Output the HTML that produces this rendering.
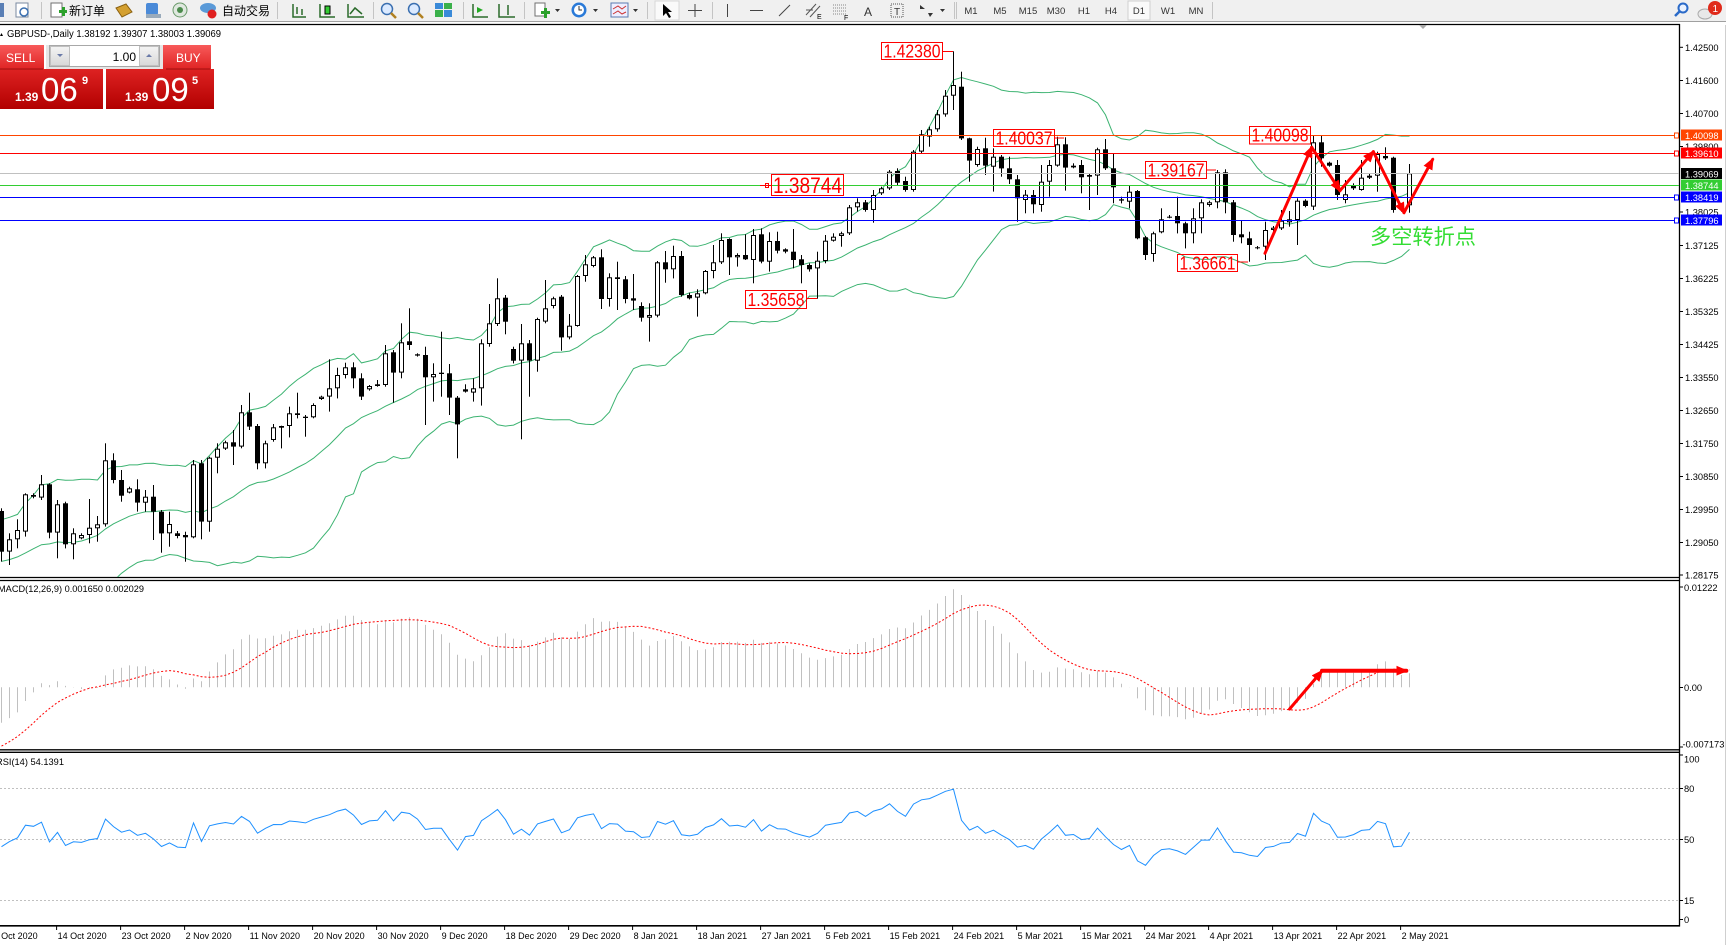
<!DOCTYPE html>
<html><head><meta charset="utf-8">
<style>
html,body{margin:0;padding:0;background:#fff;}
body{width:1726px;height:945px;overflow:hidden;position:relative;}
svg{position:absolute;left:0;top:0;}
</style></head><body>
<svg id="s" width="1726" height="945" viewBox="0 0 1726 945" xmlns="http://www.w3.org/2000/svg" font-family="'Liberation Sans','Noto Sans CJK SC',sans-serif">
<defs>
<linearGradient id="gBtn" x1="0" y1="0" x2="0" y2="1"><stop offset="0" stop-color="#f85a5a"/><stop offset="1" stop-color="#e02424"/></linearGradient>
<linearGradient id="gBig" x1="0" y1="0" x2="0" y2="1"><stop offset="0" stop-color="#de2222"/><stop offset="1" stop-color="#b20000"/></linearGradient>
<linearGradient id="gGr" x1="0" y1="0" x2="0" y2="1"><stop offset="0" stop-color="#f4f4f4"/><stop offset="1" stop-color="#d8d8d8"/></linearGradient>
<clipPath id="cMain"><rect x="0" y="26" width="1679" height="551"/></clipPath>
<clipPath id="cMacd"><rect x="0" y="582" width="1679" height="167"/></clipPath>
<clipPath id="cRsi"><rect x="0" y="753" width="1679" height="172"/></clipPath>
<marker id="ah" markerUnits="userSpaceOnUse" markerWidth="12" markerHeight="10" refX="10" refY="5" orient="auto"><path d="M0,0 L12,5 L0,10 z" fill="#ff0000"/></marker>
</defs>

<!-- toolbar -->
<rect x="0" y="0" width="1726" height="21" fill="#f0f0f0"/>
<line x1="0" y1="21.5" x2="1726" y2="21.5" stroke="#a0a0a0"/>
<g stroke="#c4c4c4"><line x1="41.5" y1="2" x2="41.5" y2="19"/><line x1="277.5" y1="2" x2="277.5" y2="19"/><line x1="373.5" y1="2" x2="373.5" y2="19"/><line x1="463.5" y1="2" x2="463.5" y2="19"/><line x1="524.5" y1="2" x2="524.5" y2="19"/><line x1="647.5" y1="2" x2="647.5" y2="19"/><line x1="712.5" y1="2" x2="712.5" y2="19"/><line x1="954.5" y1="2" x2="954.5" y2="19"/><line x1="956.5" y1="2" x2="956.5" y2="19"/><line x1="1212.5" y1="2" x2="1212.5" y2="19"/></g>
<rect x="0" y="3" width="4" height="14" fill="#5a7fb5"/>
<rect x="16" y="3" width="12" height="14" fill="#fff" stroke="#7a8aa0"/><circle cx="24" cy="12" r="4" fill="none" stroke="#3a6fb0" stroke-width="1.5"/>
<rect x="51" y="3" width="11" height="14" fill="#fff" stroke="#707070"/><rect x="59" y="10" width="8" height="3" fill="#2aa02a"/><rect x="62" y="7" width="3" height="9" fill="#2aa02a"/>
<text x="69" y="15" font-size="12" font-family="'Liberation Sans','Noto Sans CJK SC',sans-serif">新订单</text>
<path d="M116,8 L126,4 L132,12 L122,17 z" fill="#d4a030" stroke="#8a6010"/>
<rect x="146" y="3" width="12" height="12" rx="2" fill="#4a8ad8"/><rect x="146" y="14" width="15" height="4" fill="#9ab"/>
<circle cx="180" cy="10" r="7" fill="#dfe8df" stroke="#6a9a6a"/><circle cx="180" cy="10" r="3" fill="#4a8a4a"/>
<ellipse cx="208" cy="8" rx="8" ry="5" fill="#5a9ad8"/><circle cx="212" cy="14" r="4.5" fill="#e02020"/>
<text x="222" y="15" font-size="12" font-family="'Liberation Sans','Noto Sans CJK SC',sans-serif">自动交易</text>
<g stroke="#2a6a2a" stroke-width="1.5" fill="none"><path d="M293,4 V17 H306 M297,7 V14 M302,9 V15"/><path d="M320,4 V17 H335"/><path d="M348,4 V17 H364 M350,14 L355,8 L362,14"/></g>
<rect x="325" y="6" width="5" height="8" fill="#3c3" stroke="#000"/>
<circle cx="387" cy="9" r="5.5" fill="#dbeaff" stroke="#3a6fb0" stroke-width="1.5"/><line x1="391" y1="13" x2="396" y2="18" stroke="#b08020" stroke-width="2.5"/>
<circle cx="414" cy="9" r="5.5" fill="#dbeaff" stroke="#3a6fb0" stroke-width="1.5"/><line x1="418" y1="13" x2="423" y2="18" stroke="#b08020" stroke-width="2.5"/>
<rect x="435" y="3" width="8" height="6" fill="#3a8ad8"/><rect x="444" y="3" width="8" height="6" fill="#3ab04a"/><rect x="435" y="10" width="8" height="7" fill="#3ab04a"/><rect x="444" y="10" width="8" height="7" fill="#3a8ad8"/>
<g stroke="#2a6a2a" stroke-width="1.5" fill="none"><path d="M473,4 V17 H488"/><path d="M499,4 V17 H515 M508,5 V15"/></g>
<path d="M477,7 L483,10 L477,13 z" fill="#2a2"/>
<rect x="535" y="3" width="10" height="13" fill="#fff" stroke="#707070"/><rect x="541" y="11" width="9" height="3" fill="#2aa02a"/><rect x="544" y="8" width="3" height="10" fill="#2aa02a"/>
<path d="M555,9 h5 l-2.5,3 z M593,9 h5 l-2.5,3 z M633,9 h5 l-2.5,3 z M940,9 h5 l-2.5,3 z" fill="#333"/>
<circle cx="579" cy="10" r="7.5" fill="#2a7ad8"/><circle cx="579" cy="10" r="5" fill="#fff"/><path d="M579,6 V10 H582" stroke="#333" fill="none"/>
<rect x="611" y="3" width="17" height="14" fill="#eef" stroke="#5a7ab0"/><path d="M613,9 L618,6 L622,9 L626,6 M613,14 L618,11 L622,14 L626,12" stroke="#c33" fill="none"/>
<rect x="655" y="1" width="24" height="19" fill="#fafafa" stroke="#d8d8d8"/><path d="M663,4 L663,16 L666,13 L669,18 L671,17 L668,12 L672,12 z" fill="#000"/>
<path d="M695,4 V17 M688,10.5 H702" stroke="#444"/>
<line x1="727.5" y1="4" x2="727.5" y2="17" stroke="#444"/><line x1="750" y1="10.5" x2="763" y2="10.5" stroke="#444"/><line x1="779" y1="16" x2="790" y2="5" stroke="#444"/>
<path d="M806,15 L816,4 M810,17 L820,6 M806,10 L813,10" stroke="#555" fill="none"/><text x="817" y="19" font-size="7">E</text>
<path d="M833,5 H847 M833,8 H847 M833,11 H847 M833,14 H847" stroke="#888" stroke-dasharray="1,1"/><text x="844" y="20" font-size="7">F</text>
<text x="864" y="16" font-size="12" fill="#333">A</text>
<rect x="891" y="4" width="12" height="13" fill="none" stroke="#555" stroke-dasharray="1,1"/><text x="894" y="15" font-size="10" fill="#333">T</text>
<path d="M920,5 L925,9 L920,9 z M928,13 L933,13 L930,17 z" fill="#333"/>
<g font-size="9.5" fill="#333" text-anchor="middle"><text x="971" y="14">M1</text><text x="1000" y="14">M5</text><text x="1028" y="14">M15</text><text x="1056" y="14">M30</text><text x="1084" y="14">H1</text><text x="1111" y="14">H4</text><text x="1168" y="14">W1</text><text x="1196" y="14">MN</text></g>
<rect x="1128" y="1" width="22" height="19" fill="#fafafa" stroke="#d0d0d0"/><text x="1139" y="14" font-size="9.5" fill="#333" text-anchor="middle">D1</text>
<circle cx="1683" cy="8" r="4.5" fill="#eaf2ff" stroke="#2a6ac8" stroke-width="2"/><line x1="1680" y1="11" x2="1675" y2="16" stroke="#2a6ac8" stroke-width="2.5"/>
<ellipse cx="1705" cy="14" rx="7" ry="5" fill="#e8e8e8" stroke="#aaa"/><circle cx="1715" cy="8" r="7" fill="#e02a1a"/><text x="1712.5" y="12" font-size="10" fill="#fff">1</text>

<!-- chart frame -->
<rect x="0" y="22" width="1726" height="3" fill="#fff"/>
<line x1="0" y1="24.5" x2="1680" y2="24.5" stroke="#000" stroke-width="1.3"/>
<path d="M1419,25 L1427,25 L1423,29 z" fill="#a8a8a8"/>
<line x1="1679.5" y1="24" x2="1679.5" y2="926.5" stroke="#000" stroke-width="1.3"/>
<line x1="0" y1="577.5" x2="1680" y2="577.5" stroke="#000" stroke-width="1.3"/>
<line x1="0" y1="580.5" x2="1680" y2="580.5" stroke="#000" stroke-width="1.3"/>
<line x1="0" y1="749.8" x2="1680" y2="749.8" stroke="#000" stroke-width="1.3"/>
<line x1="0" y1="752.3" x2="1680" y2="752.3" stroke="#000" stroke-width="1.3"/>
<line x1="0" y1="925.8" x2="1680" y2="925.8" stroke="#000" stroke-width="1.6"/>
<line x1="1725.5" y1="25" x2="1725.5" y2="945" stroke="#cfcfcf"/>

<!-- RSI levels -->
<g stroke="#c0c0c0" stroke-dasharray="2,2"><line x1="0" y1="788.5" x2="1679" y2="788.5"/><line x1="0" y1="839.5" x2="1679" y2="839.5"/><line x1="0" y1="900.5" x2="1679" y2="900.5"/></g>

<g id="bb" clip-path="url(#cMain)"></g>
<g id="cd" clip-path="url(#cMain)"></g>
<g id="mh" clip-path="url(#cMacd)"></g>
<g id="rs" clip-path="url(#cRsi)"></g>

<!-- horizontal lines -->
<line x1="0" y1="135.5" x2="1674" y2="135.5" stroke="#ff4500"/><rect x="1674.5" y="133" width="4" height="5" fill="#fff" stroke="#ff4500"/>
<line x1="0" y1="153.5" x2="1674" y2="153.5" stroke="#ff0000"/><rect x="1674.5" y="151" width="4" height="5" fill="#fff" stroke="#ff0000"/>
<line x1="0" y1="173.5" x2="1679" y2="173.5" stroke="#c0c0c0"/>
<line x1="0" y1="185.5" x2="1679" y2="185.5" stroke="#32cd32"/>
<line x1="0" y1="197.5" x2="1674" y2="197.5" stroke="#0000ff"/><rect x="1674.5" y="195" width="4" height="5" fill="#fff" stroke="#0000ff"/>
<line x1="0" y1="220.5" x2="1674" y2="220.5" stroke="#0000ff"/><rect x="1674.5" y="218" width="4" height="5" fill="#fff" stroke="#0000ff"/>

<!-- price labels -->
<g fill="none" stroke="#ff0000" stroke-width="1">
<rect x="881.5" y="42.5" width="61" height="17"/><line x1="943" y1="51.5" x2="953" y2="51.5"/>
<rect x="993.5" y="129.5" width="61" height="17"/><line x1="1055" y1="138" x2="1064" y2="138"/>
<rect x="1145.5" y="161.5" width="61" height="17"/><line x1="1207" y1="170" x2="1216" y2="170"/>
<rect x="1177.5" y="254.5" width="60" height="17"/><line x1="1238" y1="262" x2="1248" y2="262"/>
<rect x="1249.5" y="126.5" width="61" height="17.5"/>
<rect x="745.5" y="290.5" width="61" height="18"/><line x1="807" y1="298.5" x2="817" y2="298.5"/>
<rect x="771.5" y="174.5" width="72" height="21"/><line x1="760" y1="185.5" x2="771" y2="185.5"/><rect x="765.5" y="183.5" width="3" height="4"/>
</g>
<g fill="#ff0000" font-size="18">
<text x="883.5" y="57.5" textLength="57" lengthAdjust="spacingAndGlyphs">1.42380</text>
<text x="995.5" y="144.5" textLength="57" lengthAdjust="spacingAndGlyphs">1.40037</text>
<text x="1147.5" y="176.5" textLength="57" lengthAdjust="spacingAndGlyphs">1.39167</text>
<text x="1179.5" y="269.5" textLength="56" lengthAdjust="spacingAndGlyphs">1.36661</text>
<text x="1251.5" y="141.5" textLength="57" lengthAdjust="spacingAndGlyphs">1.40098</text>
<text x="747.5" y="306" textLength="57" lengthAdjust="spacingAndGlyphs">1.35658</text>
<text x="773" y="193" font-size="22" textLength="69" lengthAdjust="spacingAndGlyphs">1.38744</text>
</g>

<!-- red zigzag -->
<g stroke="#ff0000" stroke-width="3" stroke-linecap="round" marker-end="url(#ah)">
<line x1="1265" y1="253.3" x2="1311.7" y2="147.3"/>
<line x1="1311.7" y1="147.3" x2="1340" y2="190.7"/>
<line x1="1340" y1="190.7" x2="1373.3" y2="151.7"/>
<line x1="1373.3" y1="151.7" x2="1404" y2="212.7"/>
<line x1="1404" y1="212.7" x2="1432.7" y2="159.3"/>
<line x1="1289.6" y1="709" x2="1322" y2="671"/>
<line x1="1322" y1="670.7" x2="1406.3" y2="670.7" stroke-width="4"/>
</g>
<text x="1370" y="244" font-size="21" fill="#33dd33" textLength="106" lengthAdjust="spacingAndGlyphs" font-family="'Liberation Sans','Noto Sans CJK SC',sans-serif">多空转折点</text>

<!-- title & indicator captions -->
<path d="M0,36 L3,36 L1.5,33 z" fill="#000"/>
<text x="7" y="37" font-size="10" textLength="214" lengthAdjust="spacingAndGlyphs">GBPUSD-,Daily  1.38192 1.39307 1.38003 1.39069</text>
<text x="-2" y="592" font-size="9.5" textLength="146" lengthAdjust="spacingAndGlyphs">MACD(12,26,9) 0.001650 0.002029</text>
<text x="-4" y="765" font-size="9.5" textLength="68" lengthAdjust="spacingAndGlyphs">RSI(14) 54.1391</text>

<!-- one click trading -->
<rect x="0" y="45" width="44" height="24" fill="url(#gBtn)"/>
<text x="6" y="62" font-size="12" fill="#fff">SELL</text>
<rect x="46" y="45" width="117" height="24" fill="#e6e6e6"/>
<rect x="49.5" y="45.5" width="110" height="21" fill="#fff" stroke="#a8a8a8"/>
<rect x="50.5" y="46.5" width="19" height="19" fill="url(#gGr)" stroke="#c0c0c0"/>
<rect x="139.5" y="46.5" width="19" height="19" fill="url(#gGr)" stroke="#c0c0c0"/>
<path d="M57,54 h6 l-3,3 z" fill="#6a7aa8"/><path d="M146,57 h6 l-3,-3 z" fill="#6a7aa8"/>
<text x="136" y="61" font-size="12" text-anchor="end">1.00</text>
<rect x="163" y="45" width="48" height="24" fill="url(#gBtn)"/>
<text x="176" y="62" font-size="12" fill="#fff">BUY</text>
<rect x="0" y="69" width="103" height="40" fill="url(#gBig)"/>
<rect x="106" y="69" width="108" height="40" fill="url(#gBig)"/>
<line x1="0" y1="69" x2="43" y2="69" stroke="#a01010"/><line x1="166" y1="69" x2="210" y2="69" stroke="#a01010"/>
<g fill="#fff">
<text x="15" y="101" font-size="12" font-weight="bold">1.39</text>
<text x="41" y="101" font-size="33">06</text>
<text x="82" y="84" font-size="11" font-weight="bold">9</text>
<text x="125" y="101" font-size="12" font-weight="bold">1.39</text>
<text x="152" y="101" font-size="33">09</text>
<text x="192" y="84" font-size="11" font-weight="bold">5</text>
</g>

<!-- price axis -->
<g stroke="#000"><line x1="1680" y1="47.3" x2="1683" y2="47.3"/><line x1="1680" y1="80.5" x2="1683" y2="80.5"/><line x1="1680" y1="113.5" x2="1683" y2="113.5"/><line x1="1680" y1="146.5" x2="1683" y2="146.5"/><line x1="1680" y1="212" x2="1683" y2="212"/><line x1="1680" y1="245.5" x2="1683" y2="245.5"/><line x1="1680" y1="278.5" x2="1683" y2="278.5"/><line x1="1680" y1="311.5" x2="1683" y2="311.5"/><line x1="1680" y1="344.5" x2="1683" y2="344.5"/><line x1="1680" y1="377.5" x2="1683" y2="377.5"/><line x1="1680" y1="410.5" x2="1683" y2="410.5"/><line x1="1680" y1="443.5" x2="1683" y2="443.5"/><line x1="1680" y1="476.5" x2="1683" y2="476.5"/><line x1="1680" y1="509.5" x2="1683" y2="509.5"/><line x1="1680" y1="542.5" x2="1683" y2="542.5"/><line x1="1680" y1="575" x2="1683" y2="575"/>
<line x1="1680" y1="587" x2="1683" y2="587"/><line x1="1680" y1="687.5" x2="1683" y2="687.5"/><line x1="1680" y1="747" x2="1683" y2="747"/>
<line x1="1680" y1="755" x2="1683" y2="755"/><line x1="1680" y1="788.5" x2="1683" y2="788.5"/><line x1="1680" y1="839.5" x2="1683" y2="839.5"/><line x1="1680" y1="900.5" x2="1683" y2="900.5"/><line x1="1680" y1="919.5" x2="1683" y2="919.5"/></g>
<g font-size="9.3" fill="#000">
<text x="1685" y="50.8">1.42500</text><text x="1685" y="84">1.41600</text><text x="1685" y="117">1.40700</text><text x="1685" y="150">1.39800</text>
<text x="1685" y="215.5">1.38025</text><text x="1685" y="249">1.37125</text><text x="1685" y="282">1.36225</text><text x="1685" y="315">1.35325</text><text x="1685" y="348">1.34425</text><text x="1685" y="381">1.33550</text><text x="1685" y="414">1.32650</text><text x="1685" y="447">1.31750</text><text x="1685" y="480">1.30850</text><text x="1685" y="513">1.29950</text><text x="1685" y="546">1.29050</text><text x="1685" y="578.5">1.28175</text>
<text x="1684" y="591">0.01222</text><text x="1684" y="690.8">0.00</text><text x="1682.5" y="747.5">-0.007173</text>
<text x="1684" y="762.5">100</text><text x="1684" y="791.8">80</text><text x="1684" y="842.8">50</text><text x="1684" y="904">15</text><text x="1684" y="922.8">0</text>
</g>
<rect x="1681" y="129.5" width="41" height="11" fill="#ff4500"/>
<rect x="1681" y="147.5" width="41" height="11" fill="#ff0000"/>
<rect x="1681" y="168" width="41" height="11" fill="#000"/>
<rect x="1681" y="179.5" width="41" height="11" fill="#32cd32"/>
<rect x="1681" y="191.5" width="41" height="11" fill="#0000ff"/>
<rect x="1681" y="214.5" width="41" height="11" fill="#0000ff"/>
<g font-size="9.3" fill="#fff">
<text x="1685" y="138.8">1.40098</text><text x="1685" y="156.8">1.39610</text><text x="1685" y="177.3">1.39069</text><text x="1685" y="188.8">1.38744</text><text x="1685" y="200.8">1.38419</text><text x="1685" y="223.8">1.37796</text>
</g>

<!-- date axis -->
<g id="dt" stroke="#000"></g>
<g font-size="9" fill="#000">
<text x="-6.4" y="939">5 Oct 2020</text><text x="57.6" y="939">14 Oct 2020</text><text x="121.6" y="939">23 Oct 2020</text><text x="185.6" y="939">2 Nov 2020</text><text x="249.6" y="939">11 Nov 2020</text><text x="313.6" y="939">20 Nov 2020</text><text x="377.6" y="939">30 Nov 2020</text><text x="441.6" y="939">9 Dec 2020</text><text x="505.6" y="939">18 Dec 2020</text><text x="569.6" y="939">29 Dec 2020</text><text x="633.6" y="939">8 Jan 2021</text><text x="697.6" y="939">18 Jan 2021</text><text x="761.6" y="939">27 Jan 2021</text><text x="825.6" y="939">5 Feb 2021</text><text x="889.6" y="939">15 Feb 2021</text><text x="953.6" y="939">24 Feb 2021</text><text x="1017.6" y="939">5 Mar 2021</text><text x="1081.6" y="939">15 Mar 2021</text><text x="1145.6" y="939">24 Mar 2021</text><text x="1209.6" y="939">4 Apr 2021</text><text x="1273.6" y="939">13 Apr 2021</text><text x="1337.6" y="939">22 Apr 2021</text><text x="1401.6" y="939">2 May 2021</text>
</g>
</svg>
<script>
(function(){
var pre=[1.250,1.253,1.248,1.255,1.260,1.262,1.258,1.255,1.260,1.265,1.258,1.260,1.262,1.268,1.272,1.277,1.280,1.282,1.285,1.290,1.295,1.298,1.310,1.305,1.312,1.309,1.308,1.310,1.313,1.308,1.310,1.305,1.307,1.313,1.312,1.315,1.320,1.310,1.310,1.322,1.320,1.316,1.320,1.308,1.312,1.320,1.325,1.330,1.336,1.340,1.337,1.335,1.336,1.328,1.326,1.318,1.310,
1.300,1.296,1.282,1.279,1.282,1.280,1.285,1.289,1.290,1.294,1.292,1.285,1.280,1.279,1.278,1.280,1.282,1.285,1.288,1.293,1.298];
var A=[[0,933,1055,925,1085],[1,1018,1055,1000,1095],[1,990,1018,958,1045],[1,883,995,880,1010],[0,885,890,880,895],[1,853,893,825,900],[0,853,998,850,1015],[1,913,998,900,1075],[0,910,1033,905,1045],[1,1000,1033,985,1078],
[1,1005,1015,1000,1018],[1,983,1005,897,1030],[1,973,985,948,1025],[1,781,973,730,980],[0,781,840,760,850],[0,840,887,810,905],[1,865,878,860,880],[0,868,908,838,935],[1,890,908,870,935],[0,890,935,855,1020],
[0,935,1000,930,1058],[1,972,1000,935,1040],[0,1000,1008,993,1015],[0,1005,1012,995,1085],[1,793,1012,780,1015],[0,790,965,780,1018],[1,773,965,770,995],[1,746,773,730,820],[1,727,746,722,750],[0,727,740,690,795],
[1,637,740,615,745],[0,637,680,578,690],[0,678,790,672,808],[1,730,790,722,805],[1,682,720,672,725],[0,678,683,677,745],[1,640,678,620,712],[0,640,645,578,655],[0,650,654,645,710],[1,615,652,610,655],
[1,590,597,587,600],[1,565,590,478,635],[1,525,565,503,595],[1,502,525,488,535],[0,502,535,487,565],[0,535,590,520,600],[1,558,568,555,572],[1,553,558,540,560],[1,460,555,435,560],[0,457,518,450,608],
[1,427,518,370,535],[0,424,435,325,450],[0,463,467,460,470],[0,465,532,440,675],[1,522,532,490,605],[0,518,522,395,590],[0,520,593,492,645],[0,593,673,588,775],[0,568,575,553,578],[1,565,578,535,605],
[1,430,565,418,617],[1,370,432,312,440],[1,295,372,235,378],[0,293,365,285,403],[0,447,482,440,490],[1,430,482,372,718],[0,430,482,420,590],[1,357,482,353,515],[1,325,365,240,370],[1,295,318,290,325],
[0,290,412,285,452],[1,377,412,342,418],[1,228,378,225,380],[1,193,228,165,245],[1,172,198,168,202],[0,172,297,148,327],[1,232,297,220,320],[0,232,237,185,330],[0,238,297,228,310],[0,295,302,222,330],
[0,318,353,307,365],[1,345,353,310,425],[1,187,347,183,352],[0,187,208,153,248],[1,168,208,137,235],[0,168,285,153,290],[0,285,295,278,298],[1,280,293,268,350],[1,213,280,210,283],[1,187,213,135,235],
[1,120,187,100,192],[0,117,172,115,225],[1,165,172,160,200],[0,165,178,103,180],[1,105,180,87,250],[0,103,185,85,190],[1,123,185,97,215],[0,123,152,95,160],[0,148,155,145,160],[0,155,180,87,205],
[0,178,195,165,250],[0,195,208,190,215],[1,182,205,155,296],[1,122,183,105,190],[1,110,122,100,125],[1,100,108,95,140],[1,22,100,15,105]];
var B=[[1,517,532,505,545],[0,517,540,510,545],[1,495,540,480,578],[1,475,490,470,495],[1,425,475,420,480],[0,423,458,415,465],[0,453,480,440,485],[1,365,480,360,485],[1,313,365,300,370],[1,298,320,290,350],
[1,253,298,240,305],[1,197,253,180,260],[1,165,197,64,240],[0,170,325,125,330],[0,325,392,323,455],[1,357,405,350,410],[0,355,407,323,435],[1,380,410,355,485],[0,380,415,375,440],[0,415,448,380,462],
[0,448,505,435,575],[1,494,510,480,550],[0,495,523,480,550],[1,455,525,405,545],[1,405,455,390,500],[1,343,407,320,410],[0,343,413,322,482],[1,407,412,400,415],[0,405,442,390,490],[1,435,440,430,540],
[1,358,437,353,495],[0,358,415,327,420],[0,415,472,372,520],[0,508,512,500,520],[1,485,515,465,535],[0,483,625,480,628],[0,622,675,618,690],[1,610,672,605,695],[1,568,607,535,610],[0,560,563,555,565],
[0,558,580,500,610],[0,580,610,575,655],[1,565,610,535,640],[1,517,565,508,610],[1,517,525,512,530],[1,427,517,420,535],[0,427,517,418,550],[0,517,615,510,635],[0,613,622,570,640],[0,625,645,605,695],
[0,652,655,648,658],[1,600,650,575,690],[1,593,600,588,605],[1,572,595,540,600],[1,568,577,543,590],[1,512,570,505,645],[0,512,528,508,532],[1,337,530,318,540],[0,337,385,315,410],[0,398,407,395,410],
[0,405,495,390,510],[1,493,510,450,520],[0,465,475,460,480],[1,443,480,390,482],[1,437,443,432,447],[1,372,437,365,485],[0,378,385,352,390],[0,383,540,380,548],[0,526,536,522,545],[1,430,526,402,548]];
var bars=[];
function push(r,f){var t=r[0],top=f(r[1]),bot=f(r[2]),hi=f(Math.min(r[3],r[1])),lo=f(Math.max(r[4],r[2]));bars.push({o:t?bot:top,c:t?top:bot,h:hi,l:lo,w:t,top:top,bot:bot});}
A.forEach(function(r){push(r,function(z){return 200+z/3;});});
B.forEach(function(r){push(r,function(z){return 30+z/3;});});
function P(y){return 1.425-(y-47.3)/3684;} function Y(p){return 47.3+(1.425-p)*3684;}
var cl=pre.concat(bars.map(function(b){return P(b.c);}));
var off=pre.length,N=bars.length;
function X(i){return 1+8*i+0.5;}
var s='';
for(var i=0;i<N;i++){var b=bars[i],cx=1+8*i;
 s+='<rect x="'+cx+'" y="'+b.h.toFixed(1)+'" width="1" height="'+Math.max(1,b.l-b.h).toFixed(1)+'" fill="#000"/>';
 var h=Math.max(1,b.bot-b.top);
 if(b.w){ s+='<rect x="'+(cx-1.5)+'" y="'+(b.top+0.5).toFixed(1)+'" width="4" height="'+Math.max(0.5,h-1).toFixed(1)+'" fill="#fff" stroke="#000" stroke-width="1"/>'; }
 else { s+='<rect x="'+(cx-2)+'" y="'+b.top.toFixed(1)+'" width="5" height="'+h.toFixed(1)+'" fill="#000"/>'; }
}
document.getElementById('cd').innerHTML=s;
var up=[],md=[],lw=[];
for(var i=0;i<N;i++){var k=off+i,sum=0;for(var j=k-19;j<=k;j++)sum+=cl[j];var m=sum/20,v=0;for(var j=k-19;j<=k;j++)v+=(cl[j]-m)*(cl[j]-m);var sd=Math.sqrt(v/20);
 up.push(X(i)+','+Y(m+2*sd).toFixed(1));md.push(X(i)+','+Y(m).toFixed(1));lw.push(X(i)+','+Y(m-2*sd).toFixed(1));}
var bs='';[up,md,lw].forEach(function(a){bs+='<polyline points="'+a.join(' ')+'" fill="none" stroke="#3cb371" stroke-width="1"/>';});
document.getElementById('bb').innerHTML=bs;
function ema(a,n){var k=2/(n+1),o=[],e=a[0];for(var i=0;i<a.length;i++){e=i?a[i]*k+e*(1-k):a[0];o.push(e);}return o;}
var e12=ema(cl,12),e26=ema(cl,26),mn=[];for(var i=0;i<cl.length;i++)mn.push(e12[i]-e26[i]);
var sg=[];for(var i=0;i<cl.length;i++){var a=0,c=0;for(var j=Math.max(0,i-8);j<=i;j++){a+=mn[j];c++;}sg.push(a/c);}
function YM(v){return 687.2-v*8611;}
var ms='',sp=[];
for(var i=0;i<N;i++){var k=off+i;ms+='<line x1="'+X(i)+'" y1="687.2" x2="'+X(i)+'" y2="'+YM(mn[k]).toFixed(1)+'" stroke="#c0c0c0" stroke-width="1"/>';sp.push(X(i)+','+YM(sg[k]).toFixed(1));}
ms+='<polyline points="'+sp.join(' ')+'" fill="none" stroke="#ff0000" stroke-width="1" stroke-dasharray="2,2"/>';
document.getElementById('mh').innerHTML=ms;
var ag=0,al=0,rsi=[50];
for(var i=1;i<cl.length;i++){var d=cl[i]-cl[i-1],g=d>0?d:0,l=d<0?-d:0;
 if(i<=14){ag+=g;al+=l;if(i==14){ag/=14;al/=14;}rsi.push(50);if(i==14)rsi[i]=al==0?100:100-100/(1+ag/al);}
 else{ag=(ag*13+g)/14;al=(al*13+l)/14;rsi.push(al==0?100:100-100/(1+ag/al));}}
var rp=[];for(var i=0;i<N;i++){rp.push(X(i)+','+(839.5-(rsi[off+i]-50)*1.703).toFixed(1));}
document.getElementById('rs').innerHTML='<polyline points="'+rp.join(' ')+'" fill="none" stroke="#1e90ff" stroke-width="1"/>';
var dt='';for(var k=-1;k<=21;k++){var x=56.6+64*k;dt+='<line x1="'+x.toFixed(1)+'" y1="926" x2="'+x.toFixed(1)+'" y2="930"/>';}
document.getElementById('dt').innerHTML=dt;
})();
</script>
</body></html>
